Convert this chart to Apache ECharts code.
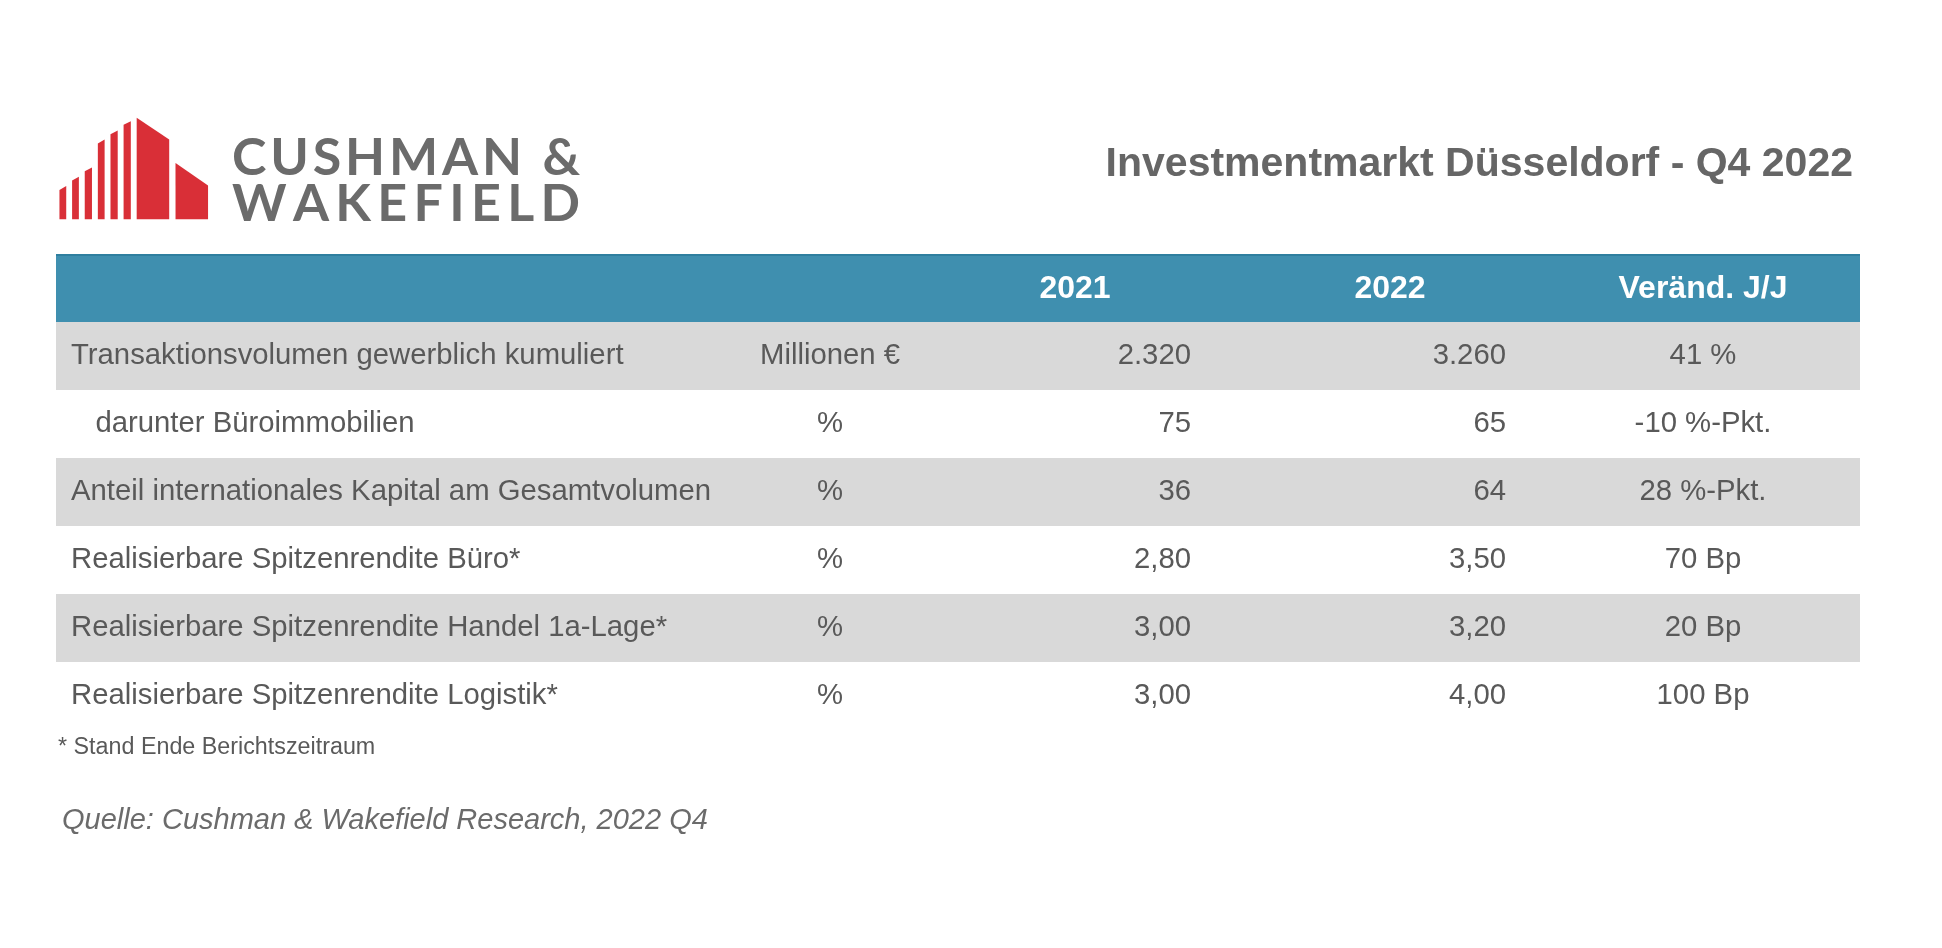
<!DOCTYPE html>
<html><head><meta charset="utf-8">
<script src="https://cdn.jsdelivr.net/npm/echarts@6/dist/echarts.min.js"></script>
<style>html,body{margin:0;padding:0;background:#fff}#c{width:1942px;height:948px}</style>
</head><body><div id="c"></div>
<script>
const title = 'Investmentmarkt Düsseldorf - Q4 2022';
const headers = ['', '', '2021', '2022', 'Veränd. J/J'];
const labels = ['Transaktionsvolumen gewerblich kumuliert', '   darunter Büroimmobilien', 'Anteil internationales Kapital am Gesamtvolumen', 'Realisierbare Spitzenrendite Büro*', 'Realisierbare Spitzenrendite Handel 1a-Lage*', 'Realisierbare Spitzenrendite Logistik*'];
const units = ['Millionen €', '%', '%', '%', '%', '%'];
const values2021 = ['2.320', '75', '36', '2,80', '3,00', '3,00'];
const values2022 = ['3.260', '65', '64', '3,50', '3,20', '4,00'];
const changes = ['41 %', '-10 %-Pkt.', '28 %-Pkt.', '70 Bp', '20 Bp', '100 Bp'];
const footnote = '* Stand Ende Berichtszeitraum';
const source = 'Quelle: Cushman & Wakefield Research, 2022 Q4';
const logoLines = ['CUSHMAN &', 'WAKEFIELD'];

const S = 1.2385;
const lx = zx => (48 + (zx - 137) * 0.3647) * S;
const ly = zy => (177 - (415 - zy) * 0.2715) * S;
const bars = [
  [[137,415],[137,328],[152,316],[152,415]],
  [[165,415],[165,300],[180,289],[180,415]],
  [[193,415],[193,272],[209,261],[209,415]],
  [[222,415],[222,190],[237,178],[237,415]],
  [[250,415],[250,162],[266,151],[266,415]],
  [[279,415],[279,134],[295,124],[295,415]],
  [[308,415],[308,113],[380,178],[380,415]],
  [[394,415],[394,248],[466,315],[466,415]]
];
const g = [];
bars.forEach(b => g.push({type:'polygon', shape:{points:b.map(p=>[lx(p[0]),ly(p[1])])}, style:{fill:'#d92f37'}}));
const logoFont = 'bold 52px Lato';
const ctx = document.createElement('canvas').getContext('2d');
ctx.font = logoFont;
const logoX0 = 232, logoX1 = 580, logoY = [158, 204];
logoLines.forEach((line, li) => {
  const chars = line.split('');
  const nat = chars.reduce((s,c)=>s+ctx.measureText(c).width, 0);
  const sp = (logoX1 - logoX0 - nat) / (chars.length - 1);
  let x = logoX0;
  chars.forEach(c => {
    g.push({type:'text', x:x, y:logoY[li], style:{text:c, font:logoFont, fill:'#6b6b6b', verticalAlign:'middle'}});
    x += ctx.measureText(c).width + sp;
  });
});
g.push({type:'text', x:1853, y:165, style:{text:title, font:'bold 41px Liberation Sans', fill:'#666666', align:'right', verticalAlign:'middle'}});

const TX0 = 56, TX1 = 1860, HY = 254, HH = 68, RH = 68;
g.push({type:'rect', shape:{x:TX0, y:HY, width:TX1-TX0, height:HH}, style:{fill:'#3f8faf'}});
g.push({type:'rect', shape:{x:TX0, y:HY, width:TX1-TX0, height:2}, style:{fill:'#2f7f9f'}});
const hx = [0, 0, 1075, 1390, 1703];
headers.forEach((h,i)=>{ if(h) g.push({type:'text', x:hx[i], y:HY+HH/2+1, style:{text:h, font:'bold 32px Liberation Sans', fill:'#fff', align:'center', verticalAlign:'middle'}}); });
const bodyFont = '29.3px Liberation Sans', col = '#595959';
labels.forEach((l,r)=>{
  const y0 = HY + HH + r*RH, cy = y0 + RH/2;
  if (r % 2 === 0) g.push({type:'rect', shape:{x:TX0, y:y0, width:TX1-TX0, height:RH}, style:{fill:'#d9d9d9'}});
  g.push({type:'text', x:71, y:cy, style:{text:l, font:bodyFont, fill:col, verticalAlign:'middle'}});
  g.push({type:'text', x:830, y:cy, style:{text:units[r], font:bodyFont, fill:col, align:'center', verticalAlign:'middle'}});
  g.push({type:'text', x:1191, y:cy, style:{text:values2021[r], font:bodyFont, fill:col, align:'right', verticalAlign:'middle'}});
  g.push({type:'text', x:1506, y:cy, style:{text:values2022[r], font:bodyFont, fill:col, align:'right', verticalAlign:'middle'}});
  g.push({type:'text', x:1703, y:cy, style:{text:changes[r], font:bodyFont, fill:col, align:'center', verticalAlign:'middle'}});
});
g.push({type:'text', x:58, y:748, style:{text:footnote, font:'23.3px Liberation Sans', fill:col, verticalAlign:'middle'}});
g.push({type:'text', x:62, y:821, style:{text:source, font:'italic 29px Liberation Sans', fill:'#6b6b6b', verticalAlign:'middle'}});

const chart = echarts.init(document.getElementById('c'));
chart.setOption({backgroundColor:'#fff', animation:false, graphic:g});
</script></body></html>
